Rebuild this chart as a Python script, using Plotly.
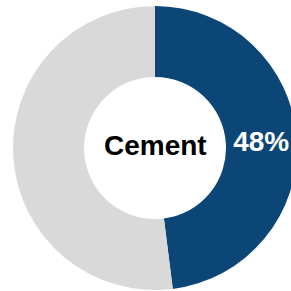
import plotly.graph_objects as go

labels = ["Cement", "Other"]
values = [48, 52]
slice_text = ["48%", ""]
center_label = "Cement"

fig = go.Figure(
    go.Pie(
        labels=labels,
        values=values,
        text=slice_text,
        textinfo="text",
        hole=0.5,
        sort=False,
        direction="clockwise",
        rotation=0,
        marker=dict(colors=["#0c4677", "#d9d9d9"], line=dict(width=0)),
        textposition="inside",
        insidetextorientation="horizontal",
        textfont=dict(family="Liberation Sans, Arial", size=28, color="white", weight="bold"),
        hoverinfo="none",
        showlegend=False,
    )
)
fig.add_annotation(
    text="<b>" + center_label + "</b>",
    x=0.5, y=0.5, xref="paper", yref="paper",
    yshift=3,
    showarrow=False,
    font=dict(family="Liberation Sans, Arial", size=28, color="black"),
)
fig.update_layout(
    width=310,
    height=291,
    autosize=False,
    margin=dict(l=0, r=0, t=6, b=1),
    paper_bgcolor="white",
    plot_bgcolor="white",
)
fig.write_html(
    "out.html",
    config={"displayModeBar": False, "staticPlot": True},
    post_script="document.body.style.margin='0';document.body.style.overflow='hidden';",
)
